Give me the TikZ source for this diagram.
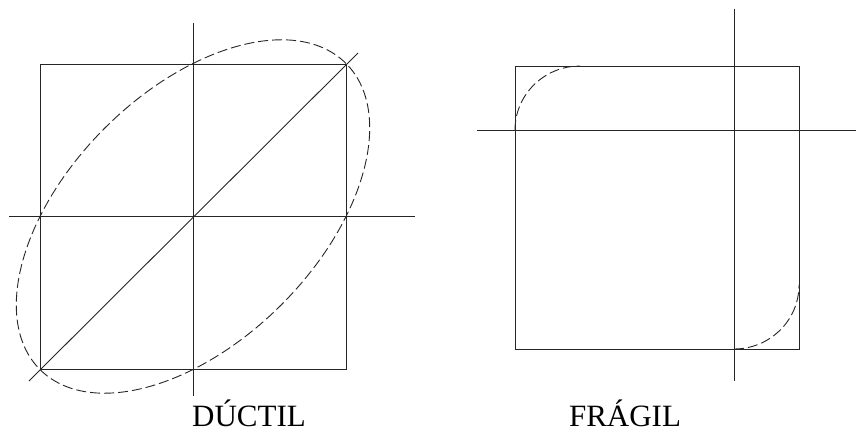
\documentclass[tikz,border=0pt]{standalone}
\usepackage{fontspec}
\setmainfont{Liberation Serif}
\begin{document}
\begin{tikzpicture}[x=1pt,y=-1pt,
  solidline/.style={line width=0.9pt, black!85},
  dashline/.style={line width=0.9pt, black!85, dash pattern=on 10pt off 4pt},
  lbl/.style={font=\fontsize{31}{36}\selectfont, inner sep=0pt, text depth=0pt, anchor=base}]
\useasboundingbox (0,0) rectangle (856,433);
% ---- Ductile ----
\coordinate (dc) at (193,216.5);
\draw[solidline] (40,64) rectangle (346,369);
\draw[solidline] (193,23) -- (193,396);
\draw[solidline] (9,216.5) -- (415,216.5);
\draw[solidline] (29,381) -- (358,53);
\draw[dashline] (dc) ellipse [x radius=216.4pt, y radius=124.9pt, rotate=45];
\node[lbl] (dl) at (249,426) {DÚCTIL};
% ---- Fragile ----
\draw[solidline] (515,66) rectangle (799,349);
\draw[solidline] (734,9) -- (734,381);
\draw[solidline] (477,130) -- (856,130);
\draw[dashline] (515,130) arc[start angle=180, end angle=90, x radius=65pt, y radius=64pt];
\draw[dashline] (734,349) arc[start angle=270, end angle=360, x radius=65pt, y radius=64pt];
\node[lbl] (fl) at (625,426) {FRÁGIL};
\end{tikzpicture}
\end{document}
